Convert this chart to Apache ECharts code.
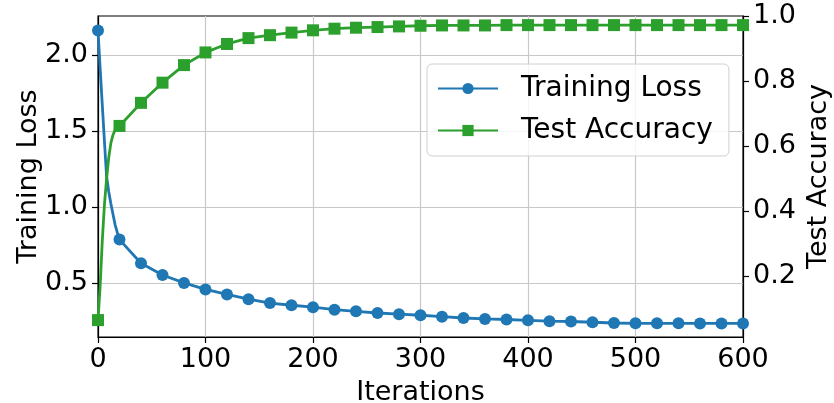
<!DOCTYPE html>
<html>
<head>
<meta charset="utf-8">
<script src="https://cdn.jsdelivr.net/npm/echarts@6/dist/echarts.min.js"></script>
<style>
html,body{margin:0;padding:0;background:#fff;}
#c{width:834px;height:403px;}
</style>
</head>
<body>
<div id="c"></div>
<script>
// Iterations (dense near the start, then every 20)
const iterations = [0,2,4,6,8,10,12,14,16,18,
  20,40,60,80,100,120,140,160,180,200,220,240,260,280,300,
  320,340,360,380,400,420,440,460,480,500,520,540,560,580,600];
const trainingLoss = [2.16,1.91,1.67,1.43,1.20,1.10,1.02,0.95,0.88,0.83,
  0.785,0.629,0.552,0.500,0.457,0.424,0.393,0.367,0.353,0.340,0.324,0.313,0.302,0.294,0.287,
  0.278,0.269,0.263,0.259,0.254,0.248,0.246,0.241,0.236,0.234,0.234,0.234,0.233,0.233,0.233];
const testAccuracy = [0.065,0.17,0.31,0.42,0.50,0.565,0.61,0.635,0.65,0.657,
  0.662,0.733,0.795,0.849,0.888,0.914,0.932,0.941,0.949,0.956,0.961,0.964,0.966,0.968,0.970,
  0.971,0.971,0.971,0.972,0.972,0.972,0.972,0.972,0.972,0.972,0.972,0.972,0.972,0.972,0.972];
const markEvery = 20;
const xTicks = [0,100,200,300,400,500,600];
const lossTicks = [0.5,1.0,1.5,2.0];
const accTicks = [0.2,0.4,0.6,0.8,1.0];

const FONT = 'DejaVu Sans';
const FS = 27;
const build = (ys) => iterations.map((x, i) => ({
  value: [x, ys[i]],
  symbol: (x % markEvery === 0) ? undefined : 'none'
}));

const chart = echarts.init(document.getElementById('c'), null, {renderer: 'canvas'});
const axisCommon = {
  axisLine: {show: true, onZero: false, lineStyle: {color: '#000', width: 1.2}},
  axisTick: {show: true, inside: false, length: 6, lineStyle: {color: '#000', width: 1.2}},
  axisLabel: {color: '#000', fontFamily: FONT, fontSize: FS},
  nameTextStyle: {color: '#000', fontFamily: FONT, fontSize: FS},
  nameMoveOverlap: false
};
chart.setOption({
  animation: false,
  backgroundColor: '#fff',
  grid: {left: 98, right: 91, top: 16, bottom: 66, show: true, borderColor: '#000', borderWidth: 1.2,
         containLabel: false, outerBoundsMode: 'none'},
  legend: {
    orient: 'vertical',
    left: 427, top: 64,
    padding: [9, 16, 10, 10],
    itemWidth: 60, itemHeight: 14,
    itemGap: 11,
    backgroundColor: 'rgba(255,255,255,0.8)',
    borderColor: '#d0d0d0', borderWidth: 1, borderRadius: 5,
    textStyle: {color: '#000', fontFamily: FONT, fontSize: 28, lineHeight: 31, padding: [0,0,0,18]},
    data: ['Training Loss', 'Test Accuracy']
  },
  xAxis: Object.assign({}, axisCommon, {
    type: 'value', min: 0, max: 600, interval: 100,
    name: 'Iterations', nameLocation: 'middle', nameGap: 42,
    axisLabel: Object.assign({}, axisCommon.axisLabel, {margin: 9, customValues: xTicks}),
    axisTick: Object.assign({}, axisCommon.axisTick, {customValues: xTicks}),
    splitLine: {show: true, lineStyle: {color: '#c8c8c8', width: 1.2}}
  }),
  yAxis: [
    Object.assign({}, axisCommon, {
      type: 'value', min: 0.144, max: 2.256, position: 'left',
      name: 'Training Loss', nameLocation: 'middle', nameGap: 56,
      axisLabel: Object.assign({}, axisCommon.axisLabel, {margin: 10, customValues: lossTicks, formatter: v => v.toFixed(1)}),
      axisTick: Object.assign({}, axisCommon.axisTick, {customValues: lossTicks}),
      splitLine: {show: true, lineStyle: {color: '#c8c8c8', width: 1.2}}
    }),
    Object.assign({}, axisCommon, {
      type: 'value', min: 0.013, max: 1.0, position: 'right',
      name: 'Test Accuracy', nameLocation: 'middle', nameGap: 62,
      axisLabel: Object.assign({}, axisCommon.axisLabel, {margin: 10, customValues: accTicks, formatter: v => v.toFixed(1)}),
      axisTick: Object.assign({}, axisCommon.axisTick, {customValues: accTicks}),
      splitLine: {show: false}
    })
  ],
  series: [
    {
      name: 'Training Loss', type: 'line', yAxisIndex: 0,
      data: build(trainingLoss),
      symbol: 'circle', symbolSize: 12, showAllSymbol: true,
      lineStyle: {color: '#1f77b4', width: 2.8},
      itemStyle: {color: '#1f77b4'},
      z: 3
    },
    {
      name: 'Test Accuracy', type: 'line', yAxisIndex: 1,
      data: build(testAccuracy),
      symbol: 'rect', symbolSize: 12, showAllSymbol: true,
      lineStyle: {color: '#2ca02c', width: 2.8},
      itemStyle: {color: '#2ca02c'},
      z: 4
    }
  ]
});
</script>
</body>
</html>
